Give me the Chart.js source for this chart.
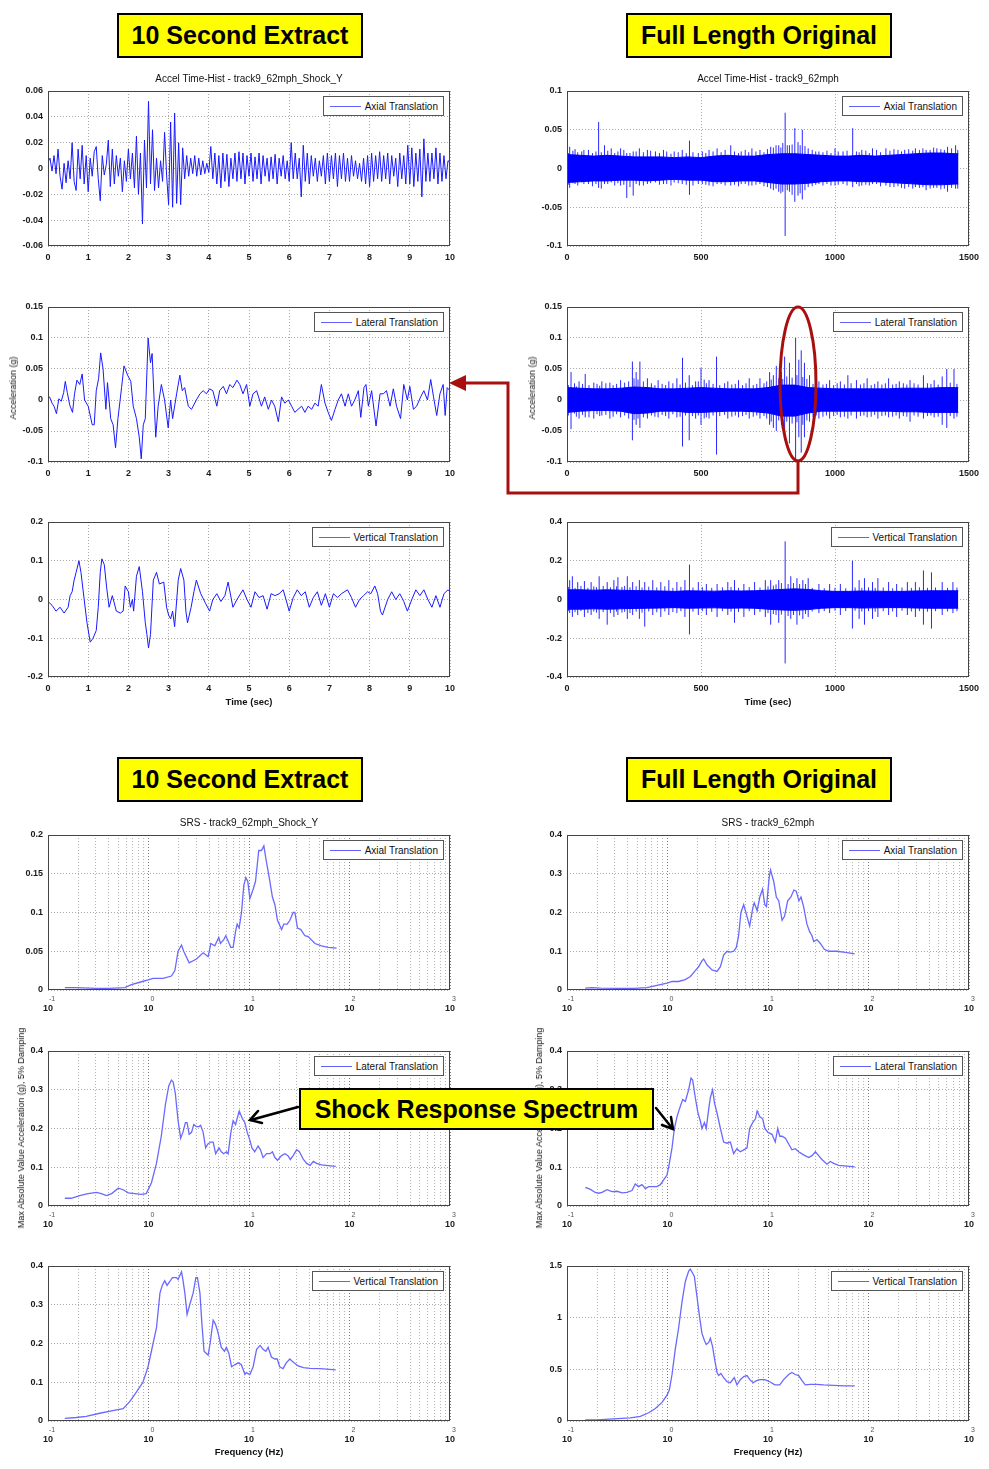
<!DOCTYPE html>
<html><head><meta charset="utf-8">
<script src="https://cdn.jsdelivr.net/npm/chart.js@4.4.1/dist/chart.umd.min.js"></script>
<style>
body{margin:0;width:989px;height:1469px;background:#fff;position:relative;overflow:hidden;font-family:"Liberation Sans",Arial,sans-serif;color:#111;}
canvas{position:absolute;}
.ttl{position:absolute;font-size:10px;line-height:12px;white-space:nowrap;transform:translateX(-50%);}
.xl{position:absolute;font-size:9.5px;font-weight:bold;line-height:12px;white-space:nowrap;transform:translateX(-50%);}
.yl{position:absolute;font-size:9px;white-space:nowrap;transform:translate(-50%,-50%) rotate(-90deg);}
.leg{position:absolute;height:20px;box-sizing:border-box;border:1px solid #555;background:#fff;display:flex;align-items:center;padding:0 5px 0 6px;font-size:10px;white-space:nowrap;}
.leg i{display:block;width:31px;border-top:1px solid #6060ff;margin-right:4px;}
.yb{position:absolute;box-sizing:border-box;background:#ffff00;border:2px solid #000;font:bold 25px "Liberation Sans",Arial,sans-serif;display:flex;align-items:center;justify-content:center;color:#000;z-index:5;}
svg{position:absolute;left:0;top:0;z-index:6;}
</style></head><body>
<script>
// ---------------- DATA ----------------
const titles = ["Accel Time-Hist - track9_62mph_Shock_Y","Accel Time-Hist - track9_62mph","SRS - track9_62mph_Shock_Y","SRS - track9_62mph"];
const seriesNames = ["Axial Translation","Lateral Translation","Vertical Translation"];

// 10 second extract, axial (sampled every 0.05 s)
const axialExtractDt = 0.05;
const axialExtract = [
0.005,0.008,-0.002,0.010,-0.004,0.015,-0.006,-0.016,0.004,-0.011,
0.006,-0.008,0.020,-0.010,-0.017,0.015,-0.008,0.018,-0.012,0.010,
-0.018,0.008,-0.006,0.013,0.017,-0.008,-0.025,0.010,-0.005,0.003,
0.022,-0.014,0.015,-0.012,0.010,-0.006,0.008,-0.018,0.006,-0.010,
0.015,-0.008,0.012,-0.015,0.025,-0.020,0.012,-0.043,0.022,-0.015,
0.052,-0.012,0.030,-0.017,0.008,-0.015,0.006,-0.010,0.028,-0.005,
-0.028,0.036,-0.030,0.043,-0.027,0.020,-0.028,0.016,-0.008,0.010,
-0.006,0.008,-0.004,0.010,-0.006,0.008,-0.005,0.006,-0.004,0.004,
-0.003,0.017,-0.008,0.012,-0.012,0.010,-0.015,0.012,-0.010,0.011,
-0.014,0.008,-0.008,0.012,-0.010,0.013,-0.008,0.012,-0.012,0.010,
-0.006,0.012,-0.010,0.009,-0.008,0.012,-0.012,0.010,-0.006,0.008,
-0.010,0.009,-0.008,0.011,-0.012,0.008,-0.006,0.010,-0.008,0.006,
-0.010,0.020,-0.008,0.012,-0.008,0.008,-0.022,0.018,-0.010,0.012,
-0.012,0.010,-0.006,0.008,-0.010,0.006,-0.006,0.010,-0.012,0.012,
-0.010,0.010,-0.008,0.012,-0.014,0.010,-0.008,0.012,-0.010,0.008,
-0.010,0.010,-0.006,0.006,-0.008,0.004,-0.010,0.008,-0.012,0.010,
-0.014,0.012,-0.010,0.010,-0.008,0.013,-0.010,0.010,-0.008,0.012,
-0.012,0.010,-0.006,0.008,-0.014,0.012,-0.008,0.010,-0.012,0.018,
-0.012,0.016,-0.014,0.012,-0.010,0.015,-0.022,0.023,-0.010,0.012,
-0.010,0.012,-0.008,0.016,-0.012,0.012,-0.010,0.010,-0.008,0.006,
0.005];

// 10 second extract, lateral [time s, g]
const lateralExtract = [[0,0.003],[0.04,0.005],[0.1,-0.005],[0.15,-0.01],[0.21,-0.022],[0.27,0.002],[0.33,-0.002],[0.39,0.012],[0.43,0.03],[0.48,0.012],[0.54,-0.008],[0.61,-0.02],[0.66,0.01],[0.72,0.032],[0.79,0.025],[0.85,0.042],[0.91,0.0],[1.0,-0.01],[1.1,-0.04],[1.15,-0.04],[1.2,0.015],[1.26,0.035],[1.31,0.076],[1.37,0.05],[1.44,-0.015],[1.48,0.028],[1.56,-0.03],[1.62,-0.04],[1.68,-0.077],[1.74,-0.03],[1.83,0.02],[1.89,0.055],[1.98,0.04],[2.06,0.03],[2.12,-0.01],[2.2,-0.03],[2.27,-0.06],[2.32,-0.095],[2.37,-0.04],[2.42,-0.03],[2.49,0.1],[2.55,0.06],[2.59,0.075],[2.64,0.0],[2.68,-0.06],[2.74,-0.01],[2.82,0.025],[2.9,0.0],[2.99,-0.045],[3.05,0.0],[3.1,-0.03],[3.2,0.01],[3.28,0.04],[3.34,0.015],[3.4,0.02],[3.49,-0.01],[3.57,-0.015],[3.69,0.0],[3.78,0.01],[3.86,0.015],[3.94,0.01],[4.02,0.018],[4.1,0.015],[4.2,-0.01],[4.27,0.015],[4.36,0.022],[4.44,0.01],[4.52,0.025],[4.6,0.02],[4.7,0.032],[4.77,0.025],[4.85,0.01],[4.94,0.025],[5.02,-0.01],[5.1,0.01],[5.19,0.015],[5.31,-0.01],[5.39,0.005],[5.48,-0.015],[5.56,0.0],[5.64,-0.01],[5.73,-0.035],[5.81,0.005],[5.89,-0.005],[5.98,0.0],[6.06,-0.01],[6.14,-0.02],[6.22,-0.015],[6.31,-0.01],[6.39,-0.02],[6.47,-0.01],[6.56,-0.015],[6.64,-0.005],[6.72,-0.01],[6.8,0.025],[6.89,-0.005],[6.97,-0.02],[7.05,-0.033],[7.14,-0.015],[7.22,0.0],[7.3,0.01],[7.39,-0.01],[7.47,0.01],[7.55,-0.01],[7.63,0.0],[7.72,0.015],[7.78,-0.028],[7.86,0.02],[7.91,0.025],[7.97,-0.01],[8.05,0.015],[8.16,-0.042],[8.26,0.01],[8.34,0.01],[8.42,0.015],[8.51,-0.01],[8.59,0.018],[8.67,-0.01],[8.77,-0.03],[8.85,0.025],[8.94,0.0],[9.0,0.022],[9.09,-0.015],[9.17,-0.01],[9.27,0.005],[9.35,0.015],[9.44,0.0],[9.52,0.033],[9.59,0.005],[9.67,-0.025],[9.75,0.01],[9.83,0.025],[9.88,-0.025],[9.93,0.02],[10,0.015]];

// 10 second extract, vertical [time s, g]
const verticalExtract = [[0,-0.005],[0.1,-0.015],[0.2,-0.03],[0.3,-0.02],[0.4,-0.035],[0.5,-0.02],[0.55,0.01],[0.6,0.02],[0.65,0.05],[0.7,0.07],[0.77,0.1],[0.82,0.07],[0.9,0.0],[0.97,-0.06],[1.05,-0.11],[1.12,-0.1],[1.2,-0.08],[1.25,-0.02],[1.3,0.07],[1.34,0.105],[1.4,0.09],[1.46,0.03],[1.52,-0.02],[1.6,0.01],[1.7,-0.03],[1.8,-0.035],[1.87,-0.03],[1.92,0.035],[2.0,0.02],[2.05,-0.02],[2.1,0.0],[2.13,-0.03],[2.2,0.06],[2.27,0.085],[2.35,0.02],[2.42,-0.06],[2.46,-0.09],[2.5,-0.125],[2.55,-0.09],[2.62,0.05],[2.7,0.07],[2.77,0.04],[2.88,0.045],[2.95,-0.02],[3.0,-0.04],[3.05,-0.05],[3.1,-0.03],[3.15,-0.07],[3.24,0.05],[3.3,0.08],[3.38,0.05],[3.43,-0.03],[3.47,-0.06],[3.56,-0.02],[3.63,0.02],[3.69,0.05],[3.8,0.015],[3.92,-0.01],[4.02,-0.03],[4.1,0.0],[4.2,0.015],[4.3,-0.005],[4.4,0.01],[4.48,0.045],[4.6,-0.02],[4.7,0.0],[4.85,0.025],[4.95,0.0],[5.05,-0.02],[5.15,0.02],[5.25,0.005],[5.35,0.01],[5.45,-0.025],[5.55,0.015],[5.65,0.01],[5.75,0.015],[5.85,0.025],[5.92,0.0],[6.0,-0.03],[6.1,0.005],[6.2,0.025],[6.3,0.01],[6.4,0.02],[6.5,-0.02],[6.6,0.005],[6.7,0.02],[6.8,-0.015],[6.9,0.015],[7.0,-0.02],[7.1,0.015],[7.2,0.005],[7.3,0.015],[7.45,0.025],[7.55,0.005],[7.65,-0.02],[7.75,0.0],[7.85,0.01],[7.95,0.02],[8.03,0.015],[8.13,0.035],[8.2,0.015],[8.27,-0.03],[8.32,-0.04],[8.45,0.0],[8.55,0.02],[8.65,0.0],[8.75,0.015],[8.85,-0.005],[8.94,-0.03],[9.05,0.0],[9.15,0.025],[9.25,0.01],[9.35,0.025],[9.45,0.0],[9.55,-0.02],[9.65,0.01],[9.75,-0.02],[9.85,0.015],[9.95,0.025],[10,0.02]];

// Full length: band envelope sampled at these times (s)
const envTimes = [0,50,100,150,200,250,300,350,400,450,500,550,600,650,700,750,800,850,900,950,1000,1050,1100,1150,1200,1250,1300,1350,1400,1450,1460];
const axialUpper = [0.018,0.017,0.016,0.017,0.016,0.015,0.015,0.015,0.014,0.015,0.014,0.016,0.017,0.016,0.016,0.018,0.019,0.019,0.018,0.017,0.016,0.016,0.017,0.016,0.017,0.018,0.019,0.020,0.020,0.019,0.019];
const axialLower = [-0.018,-0.017,-0.016,-0.016,-0.015,-0.015,-0.016,-0.015,-0.014,-0.015,-0.015,-0.017,-0.017,-0.016,-0.016,-0.018,-0.020,-0.020,-0.019,-0.017,-0.016,-0.016,-0.017,-0.017,-0.018,-0.019,-0.020,-0.021,-0.021,-0.020,-0.020];
const lateralUpper = [0.020,0.019,0.018,0.018,0.019,0.021,0.020,0.018,0.018,0.019,0.020,0.019,0.018,0.018,0.018,0.020,0.024,0.024,0.020,0.019,0.018,0.018,0.018,0.018,0.018,0.019,0.019,0.019,0.020,0.020,0.020];
const lateralLower = [-0.020,-0.018,-0.017,-0.017,-0.018,-0.022,-0.021,-0.018,-0.018,-0.020,-0.020,-0.019,-0.018,-0.018,-0.019,-0.021,-0.026,-0.026,-0.021,-0.018,-0.018,-0.018,-0.018,-0.018,-0.018,-0.019,-0.019,-0.020,-0.020,-0.020,-0.020];
const verticalUpper = [0.050,0.050,0.048,0.050,0.048,0.046,0.045,0.044,0.042,0.045,0.044,0.043,0.045,0.044,0.045,0.048,0.052,0.055,0.052,0.045,0.042,0.042,0.044,0.043,0.042,0.042,0.044,0.045,0.045,0.045,0.045];
const verticalLower = [-0.050,-0.050,-0.048,-0.050,-0.048,-0.046,-0.045,-0.044,-0.042,-0.045,-0.044,-0.043,-0.045,-0.044,-0.045,-0.050,-0.054,-0.056,-0.052,-0.045,-0.042,-0.042,-0.044,-0.043,-0.042,-0.042,-0.044,-0.045,-0.045,-0.045,-0.045];

// Full length: large spikes [time s, min g, max g]
const axialSpikes = [[10,-0.025,0.028],[30,-0.02,0.025],[55,-0.018,0.022],[80,-0.02,0.024],[118,-0.025,0.06],[140,-0.02,0.03],[165,-0.018,0.026],[200,-0.022,0.026],[223,-0.038,0.02],[247,-0.035,0.022],[270,-0.022,0.026],[300,-0.02,0.024],[330,-0.018,0.022],[360,-0.02,0.024],[400,-0.018,0.022],[430,-0.02,0.024],[457,-0.034,0.036],[490,-0.02,0.02],[530,-0.022,0.024],[560,-0.02,0.026],[611,-0.022,0.03],[650,-0.02,0.022],[690,-0.022,0.026],[720,-0.02,0.024],[760,-0.026,0.028],[790,-0.03,0.03],[814,-0.087,0.072],[830,-0.03,0.03],[850,-0.043,0.052],[862,-0.035,0.034],[878,-0.04,0.05],[900,-0.024,0.026],[940,-0.02,0.022],[1000,-0.022,0.026],[1030,-0.02,0.022],[1066,-0.024,0.052],[1100,-0.022,0.024],[1140,-0.02,0.026],[1190,-0.022,0.026],[1220,-0.024,0.025],[1260,-0.026,0.024],[1300,-0.024,0.026],[1340,-0.028,0.024],[1380,-0.025,0.026],[1420,-0.03,0.028],[1450,-0.026,0.03]];
const lateralSpikes = [[15,-0.047,0.045],[45,-0.03,0.03],[68,-0.028,0.042],[100,-0.03,0.028],[130,-0.025,0.03],[160,-0.03,0.028],[200,-0.028,0.032],[244,-0.065,0.062],[258,-0.04,0.045],[272,-0.045,0.062],[300,-0.03,0.035],[340,-0.028,0.032],[380,-0.03,0.03],[410,-0.028,0.035],[431,-0.075,0.068],[456,-0.065,0.04],[480,-0.03,0.03],[500,-0.04,0.052],[530,-0.03,0.032],[558,-0.088,0.07],[600,-0.03,0.03],[640,-0.028,0.032],[680,-0.03,0.035],[720,-0.03,0.035],[756,-0.04,0.045],[770,-0.045,0.04],[781,-0.05,0.055],[800,-0.04,0.045],[812,-0.065,0.07],[830,-0.07,0.06],[853,-0.1,0.1],[865,-0.06,0.065],[874,-0.085,0.08],[886,-0.06,0.06],[905,-0.035,0.04],[940,-0.03,0.03],[980,-0.03,0.032],[1020,-0.028,0.03],[1048,-0.03,0.04],[1080,-0.03,0.032],[1120,-0.028,0.035],[1160,-0.03,0.03],[1200,-0.028,0.035],[1240,-0.03,0.03],[1280,-0.035,0.032],[1330,-0.03,0.04],[1370,-0.028,0.032],[1400,-0.04,0.038],[1417,-0.045,0.05],[1444,-0.03,0.05]];
const verticalSpikes = [[10,-0.07,0.1],[20,-0.09,0.12],[40,-0.08,0.09],[65,-0.09,0.095],[90,-0.08,0.09],[120,-0.1,0.12],[150,-0.13,0.09],[175,-0.09,0.1],[190,-0.08,0.115],[225,-0.1,0.12],[245,-0.08,0.09],[270,-0.1,0.1],[290,-0.14,0.09],[320,-0.08,0.1],[350,-0.09,0.09],[380,-0.08,0.1],[410,-0.07,0.09],[440,-0.09,0.1],[457,-0.18,0.18],[490,-0.08,0.09],[520,-0.08,0.08],[560,-0.09,0.08],[600,-0.08,0.09],[625,-0.12,0.1],[660,-0.09,0.08],[700,-0.08,0.09],[740,-0.09,0.1],[760,-0.13,0.1],[790,-0.12,0.1],[814,-0.33,0.3],[835,-0.1,0.12],[858,-0.13,0.11],[880,-0.1,0.1],[900,-0.09,0.11],[940,-0.07,0.08],[980,-0.07,0.08],[1020,-0.08,0.08],[1065,-0.15,0.2],[1090,-0.1,0.1],[1110,-0.13,0.11],[1140,-0.1,0.09],[1160,-0.09,0.11],[1200,-0.08,0.09],[1230,-0.09,0.08],[1270,-0.08,0.09],[1300,-0.09,0.09],[1330,-0.13,0.15],[1360,-0.15,0.14],[1400,-0.08,0.09],[1440,-0.07,0.09]];
// Full length: small fringe peaks just outside the dense band [time s, min g, max g]
const axialFringe = [[5,-0.021,0.02],[22,-0.019,0.023],[40,-0.022,0.021],[63,-0.02,0.024],[95,-0.023,0.02],[108,-0.02,0.022],[128,-0.026,0.021],[152,-0.02,0.023],[178,-0.022,0.02],[190,-0.019,0.022],[212,-0.021,0.024],[235,-0.024,0.02],[258,-0.02,0.022],[285,-0.022,0.021],[312,-0.019,0.023],[345,-0.021,0.02],[372,-0.02,0.022],[388,-0.022,0.019],[415,-0.019,0.021],[445,-0.021,0.02],[470,-0.022,0.021],[505,-0.02,0.022],[518,-0.021,0.02],[545,-0.023,0.022],[575,-0.02,0.021],[590,-0.022,0.024],[625,-0.021,0.022],[640,-0.023,0.02],[665,-0.02,0.024],[678,-0.022,0.021],[705,-0.021,0.022],[735,-0.023,0.021],[748,-0.024,0.025],[770,-0.028,0.027],[780,-0.026,0.03],[798,-0.032,0.027],[805,-0.03,0.033],[822,-0.028,0.03],[840,-0.034,0.031],[870,-0.032,0.03],[888,-0.028,0.029],[915,-0.023,0.024],[928,-0.021,0.022],[955,-0.022,0.021],[970,-0.02,0.023],[985,-0.022,0.02],[1012,-0.021,0.022],[1045,-0.022,0.023],[1080,-0.02,0.022],[1090,-0.023,0.021],[1115,-0.021,0.023],[1128,-0.022,0.02],[1155,-0.02,0.024],[1170,-0.023,0.021],[1205,-0.024,0.023],[1235,-0.023,0.024],[1248,-0.025,0.022],[1275,-0.024,0.025],[1290,-0.026,0.023],[1315,-0.025,0.024],[1328,-0.024,0.026],[1355,-0.026,0.024],[1368,-0.025,0.027],[1395,-0.027,0.025],[1408,-0.026,0.024],[1435,-0.025,0.026],[1458,-0.026,0.024]];
const lateralFringe = [[5,-0.025,0.024],[28,-0.022,0.027],[35,-0.027,0.022],[58,-0.024,0.026],[82,-0.028,0.024],[112,-0.023,0.026],[122,-0.026,0.023],[145,-0.024,0.027],[172,-0.027,0.024],[185,-0.023,0.026],[215,-0.025,0.028],[230,-0.03,0.03],[250,-0.032,0.035],[265,-0.03,0.033],[285,-0.028,0.03],[315,-0.025,0.027],[328,-0.027,0.024],[355,-0.024,0.026],[368,-0.026,0.024],[395,-0.023,0.027],[422,-0.027,0.025],[442,-0.025,0.028],[468,-0.026,0.024],[490,-0.025,0.03],[512,-0.03,0.033],[520,-0.028,0.027],[545,-0.025,0.026],[570,-0.026,0.024],[588,-0.024,0.027],[615,-0.027,0.025],[628,-0.025,0.026],[655,-0.026,0.024],[668,-0.024,0.027],[695,-0.027,0.024],[708,-0.025,0.026],[735,-0.026,0.027],[745,-0.03,0.03],[762,-0.035,0.033],[790,-0.033,0.035],[805,-0.036,0.034],[820,-0.035,0.038],[840,-0.038,0.036],[858,-0.036,0.04],[880,-0.04,0.037],[895,-0.033,0.034],[918,-0.027,0.026],[930,-0.025,0.027],[955,-0.027,0.025],[968,-0.025,0.026],[995,-0.026,0.024],[1008,-0.024,0.027],[1035,-0.027,0.025],[1060,-0.025,0.027],[1095,-0.026,0.025],[1108,-0.025,0.027],[1135,-0.027,0.024],[1148,-0.024,0.026],[1175,-0.026,0.025],[1188,-0.025,0.027],[1215,-0.027,0.025],[1228,-0.025,0.026],[1255,-0.026,0.027],[1268,-0.027,0.025],[1295,-0.025,0.027],[1310,-0.027,0.025],[1345,-0.026,0.027],[1358,-0.025,0.026],[1385,-0.027,0.025],[1430,-0.026,0.028],[1455,-0.027,0.026]];
const verticalFringe = [[5,-0.06,0.065],[30,-0.065,0.06],[52,-0.06,0.07],[78,-0.07,0.06],[100,-0.062,0.068],[110,-0.068,0.064],[135,-0.065,0.07],[162,-0.07,0.063],[185,-0.063,0.068],[205,-0.068,0.065],[215,-0.064,0.07],[235,-0.07,0.063],[258,-0.063,0.068],[280,-0.068,0.062],[305,-0.062,0.066],[335,-0.066,0.062],[365,-0.062,0.068],[395,-0.065,0.06],[425,-0.06,0.065],[470,-0.063,0.062],[505,-0.06,0.064],[540,-0.064,0.06],[580,-0.06,0.063],[612,-0.063,0.065],[640,-0.065,0.06],[680,-0.06,0.064],[720,-0.064,0.062],[750,-0.07,0.068],[770,-0.075,0.072],[780,-0.08,0.078],[800,-0.078,0.085],[825,-0.085,0.08],[845,-0.08,0.085],[868,-0.082,0.08],[890,-0.075,0.08],[915,-0.062,0.06],[960,-0.06,0.058],[1000,-0.058,0.06],[1040,-0.06,0.058],[1075,-0.058,0.062],[1100,-0.062,0.06],[1125,-0.06,0.063],[1150,-0.063,0.06],[1180,-0.06,0.062],[1215,-0.062,0.058],[1250,-0.058,0.062],[1285,-0.062,0.06],[1315,-0.06,0.063],[1345,-0.063,0.06],[1375,-0.06,0.062],[1420,-0.062,0.06],[1455,-0.06,0.062]];

// SRS [frequency Hz, g]
const srsAxialExtract = [[0.147,0.003],[0.191,0.003],[0.303,0.002],[0.411,0.002],[0.58,0.003],[0.676,0.007],[0.819,0.01],[0.991,0.013],[1.11,0.015],[1.4,0.015],[1.69,0.018],[1.83,0.025],[1.97,0.05],[2.13,0.058],[2.24,0.05],[2.54,0.035],[3.0,0.04],[3.5,0.048],[3.92,0.043],[4.17,0.06],[4.57,0.057],[5.0,0.068],[5.2,0.06],[5.61,0.065],[5.88,0.07],[6.35,0.06],[6.59,0.055],[6.95,0.055],[7.34,0.075],[7.62,0.085],[7.98,0.08],[8.42,0.1],[8.88,0.135],[9.3,0.145],[9.73,0.14],[10.2,0.118],[11.0,0.13],[11.6,0.14],[12.05,0.16],[12.5,0.18],[13.3,0.18],[14.06,0.186],[14.7,0.17],[15.9,0.145],[17.1,0.12],[18.1,0.11],[19.2,0.09],[21.1,0.078],[22.2,0.085],[24.0,0.085],[25.5,0.09],[27.5,0.1],[28.6,0.1],[30.4,0.08],[32.8,0.078],[36,0.07],[38.8,0.069],[45.3,0.06],[52.7,0.057],[61.4,0.055],[74.3,0.054]];
const srsLateralExtract = [[0.147,0.02],[0.17,0.02],[0.207,0.027],[0.25,0.032],[0.303,0.035],[0.34,0.032],[0.38,0.027],[0.43,0.032],[0.5,0.046],[0.56,0.042],[0.63,0.034],[0.73,0.032],[0.85,0.03],[0.95,0.032],[1.07,0.06],[1.2,0.11],[1.34,0.18],[1.47,0.26],[1.59,0.31],[1.69,0.325],[1.76,0.32],[1.85,0.29],[1.97,0.22],[2.09,0.175],[2.2,0.19],[2.33,0.215],[2.42,0.215],[2.54,0.185],[2.68,0.19],[2.82,0.21],[3.0,0.205],[3.18,0.205],[3.3,0.208],[3.5,0.19],[3.7,0.15],[3.9,0.16],[4.17,0.165],[4.4,0.165],[4.66,0.135],[5.03,0.15],[5.3,0.14],[5.6,0.135],[5.95,0.14],[6.2,0.135],[6.6,0.19],[6.95,0.22],[7.35,0.21],[7.7,0.23],[8.0,0.245],[8.3,0.235],[8.6,0.225],[9.1,0.215],[9.6,0.19],[10.2,0.17],[10.7,0.15],[11.4,0.14],[12.3,0.155],[13.0,0.145],[13.8,0.125],[14.95,0.135],[16.2,0.135],[17.1,0.14],[18.1,0.125],[19.2,0.118],[21.1,0.13],[22.8,0.135],[24.4,0.13],[25.8,0.12],[27.5,0.13],[29.8,0.145],[31.7,0.14],[34.8,0.12],[37.5,0.11],[40.5,0.105],[43.7,0.115],[47.1,0.11],[52.7,0.106],[61.4,0.104],[73,0.102]];
const srsVerticalExtract = [[0.147,0.007],[0.191,0.009],[0.24,0.012],[0.327,0.02],[0.44,0.027],[0.56,0.032],[0.65,0.05],[0.76,0.075],[0.88,0.1],[0.99,0.14],[1.11,0.2],[1.2,0.24],[1.3,0.33],[1.37,0.35],[1.45,0.362],[1.53,0.35],[1.63,0.36],[1.73,0.37],[1.9,0.37],[1.97,0.365],[2.13,0.385],[2.2,0.365],[2.3,0.33],[2.42,0.275],[2.57,0.3],[2.78,0.33],[2.96,0.37],[3.07,0.37],[3.25,0.33],[3.4,0.25],[3.57,0.18],[3.92,0.17],[4.1,0.2],[4.4,0.26],[4.63,0.25],[4.9,0.23],[5.3,0.19],[5.7,0.18],[5.95,0.19],[6.3,0.175],[6.7,0.14],[7.2,0.145],[7.8,0.15],[8.4,0.145],[9.1,0.12],[9.4,0.125],[10.2,0.12],[11.0,0.14],[11.9,0.185],[12.9,0.195],[13.8,0.185],[14.7,0.18],[15.5,0.19],[16.7,0.165],[18.1,0.16],[19.1,0.16],[20.2,0.14],[21.8,0.135],[23.5,0.15],[25.5,0.16],[27.5,0.152],[30.8,0.142],[34.8,0.138],[40.5,0.136],[50.8,0.135],[63.6,0.133],[73,0.132]];
const srsAxialFull = [[0.152,0.005],[0.177,0.006],[0.215,0.005],[0.315,0.004],[0.46,0.004],[0.625,0.006],[0.786,0.012],[0.989,0.018],[1.109,0.022],[1.29,0.022],[1.5,0.027],[1.69,0.035],[1.89,0.05],[2.04,0.06],[2.2,0.075],[2.29,0.08],[2.47,0.065],[2.77,0.052],[3.11,0.048],[3.36,0.06],[3.62,0.09],[3.91,0.1],[4.22,0.098],[4.55,0.1],[4.84,0.11],[5.1,0.14],[5.38,0.2],[5.73,0.22],[6.18,0.19],[6.57,0.165],[7.04,0.21],[7.29,0.225],[7.8,0.205],[8.29,0.24],[8.82,0.26],[9.3,0.22],[9.66,0.215],[10.27,0.29],[10.59,0.31],[11.4,0.28],[12.1,0.24],[12.8,0.23],[13.8,0.18],[14.6,0.19],[15.7,0.23],[16.9,0.24],[18.1,0.258],[19.1,0.255],[20.3,0.23],[21.3,0.24],[22.6,0.215],[24.4,0.17],[26.0,0.15],[27.4,0.14],[28.5,0.125],[30.7,0.13],[33.2,0.12],[36.3,0.105],[40.1,0.1],[48.6,0.1],[58.8,0.097],[72.9,0.093]];
const srsLateralFull = [[0.152,0.048],[0.171,0.043],[0.191,0.035],[0.207,0.033],[0.223,0.035],[0.25,0.042],[0.28,0.037],[0.315,0.038],[0.353,0.034],[0.395,0.035],[0.443,0.04],[0.478,0.057],[0.516,0.05],[0.557,0.055],[0.602,0.045],[0.65,0.05],[0.728,0.05],[0.786,0.05],[0.849,0.055],[0.93,0.07],[0.989,0.08],[1.043,0.11],[1.109,0.15],[1.17,0.2],[1.243,0.23],[1.312,0.25],[1.416,0.275],[1.504,0.27],[1.624,0.3],[1.713,0.33],[1.78,0.325],[1.89,0.28],[2.01,0.24],[2.12,0.22],[2.2,0.2],[2.33,0.215],[2.43,0.2],[2.57,0.25],[2.67,0.28],[2.81,0.3],[2.94,0.265],[3.11,0.24],[3.36,0.2],[3.62,0.165],[3.91,0.162],[4.22,0.165],[4.55,0.135],[4.9,0.148],[5.3,0.14],[5.73,0.145],[6.18,0.15],[6.57,0.2],[7.04,0.215],[7.5,0.225],[7.8,0.245],[8.29,0.23],[8.85,0.225],[9.3,0.2],[10.0,0.19],[10.96,0.185],[11.8,0.165],[12.5,0.2],[13.1,0.18],[13.8,0.18],[14.9,0.175],[16.06,0.16],[17.3,0.145],[18.7,0.148],[20.2,0.14],[22.6,0.132],[25.4,0.125],[27.4,0.13],[29.6,0.14],[31.9,0.13],[34.4,0.12],[38.6,0.108],[41.7,0.115],[45.0,0.11],[50.5,0.105],[61.1,0.103],[72.9,0.101]];
const srsVerticalFull = [[0.152,0.01],[0.199,0.01],[0.291,0.02],[0.427,0.03],[0.537,0.045],[0.65,0.08],[0.757,0.12],[0.882,0.18],[0.989,0.25],[1.043,0.3],[1.109,0.45],[1.197,0.7],[1.29,0.9],[1.393,1.15],[1.504,1.35],[1.624,1.45],[1.687,1.47],[1.78,1.43],[1.85,1.4],[1.966,1.2],[2.09,1.0],[2.2,0.85],[2.33,0.78],[2.43,0.74],[2.57,0.76],[2.67,0.8],[2.81,0.72],[2.94,0.6],[3.11,0.47],[3.23,0.44],[3.4,0.46],[3.62,0.42],[3.91,0.38],[4.22,0.37],[4.62,0.42],[4.91,0.35],[5.3,0.4],[5.73,0.43],[6.18,0.44],[6.6,0.4],[7.12,0.37],[7.69,0.39],[8.29,0.4],[9.3,0.4],[10.4,0.38],[11.7,0.35],[13.1,0.35],[14.3,0.4],[16.06,0.45],[17.3,0.47],[18.7,0.45],[20.2,0.44],[21.8,0.39],[23.5,0.35],[26.4,0.355],[30.7,0.355],[35.8,0.35],[45,0.345],[56.6,0.34],[72.9,0.34]];

// Tick values
const ticksTime10 = [0,1,2,3,4,5,6,7,8,9,10];
const ticksTimeFull = [0,500,1000,1500];
const ticksFreq = [0.1,0.2,0.3,0.4,0.5,0.6,0.7,0.8,0.9,1,2,3,4,5,6,7,8,9,10,20,30,40,50,60,70,80,90,100,200,300,400,500,600,700,800,900,1000];
const freqDecades = [-1,0,1,2,3];
const ticksAxialExtract = [-0.06,-0.04,-0.02,0,0.02,0.04,0.06];
const ticksLat = [-0.1,-0.05,0,0.05,0.1,0.15];
const ticksVertExtract = [-0.2,-0.1,0,0.1,0.2];
const ticksAxialFull = [-0.1,-0.05,0,0.05,0.1];
const ticksVertFull = [-0.4,-0.2,0,0.2,0.4];
const ticksSrs02 = [0,0.05,0.1,0.15,0.2];
const ticksSrs04 = [0,0.1,0.2,0.3,0.4];
const ticksSrs15 = [0,0.5,1,1.5];

// ---------------- DRAWING ----------------
Chart.defaults.font.family = '"Liberation Sans", Arial, sans-serif';
const fmt = v => String(Math.round(v * 10000) / 10000);
const frameAndLog = {
  id: 'frameAndLog',
  afterDraw(chart) {
    const {ctx, chartArea: a} = chart;
    ctx.save();
    ctx.strokeStyle = '#444'; ctx.lineWidth = 1;
    ctx.strokeRect(Math.round(a.left) + 0.5, Math.round(a.top) + 0.5, Math.round(a.right - a.left) - 1, Math.round(a.bottom - a.top) - 1);
    const o = chart.options.plugins.frameAndLog;
    if (o && o.log) {
      const xs = chart.scales.x;
      ctx.textAlign = 'center'; ctx.textBaseline = 'middle';
      freqDecades.forEach(d => {
        const px = xs.getPixelForValue(Math.pow(10, d));
        ctx.fillStyle = '#1a1a1a'; ctx.font = 'bold 9px "Liberation Sans", Arial';
        ctx.fillText('10', px, a.bottom + 19);
        ctx.fillStyle = '#555'; ctx.font = '7px "Liberation Sans", Arial';
        ctx.fillText(String(d), px + 4, a.bottom + 9);
      });
    }
    ctx.restore();
  }
};

const PW = 402, PH = 155, PT = 11, PR = 22;
function plot(o) {
  const xh = o.log ? 26 : 22;
  const W = 48 + PW + PR, H = PT + PH + xh;
  const cv = document.createElement('canvas');
  cv.width = W; cv.height = H;
  cv.style.left = (o.left - 48) + 'px'; cv.style.top = (o.top - PT) + 'px';
  cv.style.width = W + 'px'; cv.style.height = H + 'px';
  document.body.appendChild(cv);
  const gridX = o.log ? (c => { const v = c.tick && c.tick.value; const l = Math.log10(v); return Math.abs(l - Math.round(l)) < 1e-6 ? '#7a7a7a' : '#b4b4b4'; }) : '#a8a8a8';
  new Chart(cv, {
    type: 'line',
    data: {datasets: o.datasets},
    options: {
      responsive: false, animation: false, events: [],
      layout: {padding: {top: PT, right: PR, bottom: 0, left: 0}},
      plugins: {legend: {display: false}, tooltip: {enabled: false}, frameAndLog: {log: !!o.log}},
      scales: {
        x: {type: o.log ? 'logarithmic' : 'linear', min: o.xMin, max: o.xMax,
          afterBuildTicks: s => { s.ticks = o.xTicks.map(v => ({value: v})); },
          afterFit: s => { s.height = xh; },
          grid: {color: gridX, drawTicks: false, lineWidth: 1},
          border: {display: false, dash: [1, 2]},
          ticks: {display: !o.log, padding: 6, autoSkip: false, maxRotation: 0, color: '#1a1a1a', font: {size: 9, weight: 'bold'}, callback: fmt}},
        y: {type: 'linear', min: o.yMin, max: o.yMax,
          afterBuildTicks: s => { s.ticks = o.yTicks.map(v => ({value: v})); },
          afterFit: s => { s.width = 48; },
          grid: {color: '#a8a8a8', drawTicks: false, lineWidth: 1},
          border: {display: false, dash: [1, 2]},
          ticks: {padding: 5, autoSkip: false, color: '#1a1a1a', font: {size: 9, weight: 'bold'}, callback: fmt}}
      }
    },
    plugins: [frameAndLog]
  });
  const lg = document.createElement('div');
  lg.className = 'leg';
  lg.style.right = (989 - (o.left + PW - 6)) + 'px';
  lg.style.top = (o.top + 5) + 'px';
  lg.innerHTML = '<i></i><span></span>';
  lg.querySelector('span').textContent = o.legend;
  document.body.appendChild(lg);
}

const pairs = a => a.map(([x, y]) => ({x, y}));
const lineDS = (data, color, w) => ({data, borderColor: color, borderWidth: w, pointRadius: 0, tension: 0, fill: false});
const TS_BLUE = 'rgb(25,25,255)', SRS_BLUE = 'rgb(105,105,255)';
function spikeDS(spikes, color) {
  const sp = [];
  spikes.forEach(([t, a, b]) => { sp.push({x: t, y: a}, {x: t, y: b}, {x: t, y: null}); });
  return {data: sp, borderColor: color, borderWidth: 1, pointRadius: 0, tension: 0, fill: false, spanGaps: false};
}
function bandDS(upper, lower, spikes, fringe) {
  const up = envTimes.map((t, i) => ({x: t, y: upper[i]}));
  const lo = envTimes.map((t, i) => ({x: t, y: lower[i]}));
  return [
    {data: up, borderColor: '#0000ff', backgroundColor: '#0000ff', borderWidth: 1, pointRadius: 0, tension: 0, fill: '+1'},
    {data: lo, borderColor: '#0000ff', borderWidth: 1, pointRadius: 0, tension: 0, fill: false},
    spikeDS(spikes, 'rgb(40,40,255)'),
    spikeDS(fringe, 'rgb(50,50,255)')
  ];
}

const L = 48, R = 567;
const rowTop = [91, 307, 522, 835, 1051, 1266];

plot({left: L, top: rowTop[0], xMin: 0, xMax: 10, xTicks: ticksTime10, yMin: -0.06, yMax: 0.06, yTicks: ticksAxialExtract, legend: seriesNames[0],
  datasets: [lineDS(axialExtract.map((v, i) => ({x: i * axialExtractDt, y: v})), TS_BLUE, 1)]});
plot({left: L, top: rowTop[1], xMin: 0, xMax: 10, xTicks: ticksTime10, yMin: -0.1, yMax: 0.15, yTicks: ticksLat, legend: seriesNames[1],
  datasets: [lineDS(pairs(lateralExtract), TS_BLUE, 1)]});
plot({left: L, top: rowTop[2], xMin: 0, xMax: 10, xTicks: ticksTime10, yMin: -0.2, yMax: 0.2, yTicks: ticksVertExtract, legend: seriesNames[2],
  datasets: [lineDS(pairs(verticalExtract), TS_BLUE, 1)]});
plot({left: R, top: rowTop[0], xMin: 0, xMax: 1500, xTicks: ticksTimeFull, yMin: -0.1, yMax: 0.1, yTicks: ticksAxialFull, legend: seriesNames[0],
  datasets: bandDS(axialUpper, axialLower, axialSpikes, axialFringe)});
plot({left: R, top: rowTop[1], xMin: 0, xMax: 1500, xTicks: ticksTimeFull, yMin: -0.1, yMax: 0.15, yTicks: ticksLat, legend: seriesNames[1],
  datasets: bandDS(lateralUpper, lateralLower, lateralSpikes, lateralFringe)});
plot({left: R, top: rowTop[2], xMin: 0, xMax: 1500, xTicks: ticksTimeFull, yMin: -0.4, yMax: 0.4, yTicks: ticksVertFull, legend: seriesNames[2],
  datasets: bandDS(verticalUpper, verticalLower, verticalSpikes, verticalFringe)});
const srsPlots = [
  [L, 3, srsAxialExtract, 0.2, ticksSrs02, 0], [L, 4, srsLateralExtract, 0.4, ticksSrs04, 1], [L, 5, srsVerticalExtract, 0.4, ticksSrs04, 2],
  [R, 3, srsAxialFull, 0.4, ticksSrs04, 0], [R, 4, srsLateralFull, 0.4, ticksSrs04, 1], [R, 5, srsVerticalFull, 1.5, ticksSrs15, 2]
];
srsPlots.forEach(([x, r, d, ymax, yt, n]) => plot({left: x, top: rowTop[r], log: true, xMin: 0.1, xMax: 1000, xTicks: ticksFreq, yMin: 0, yMax: ymax, yTicks: yt, legend: seriesNames[n],
  datasets: [lineDS(pairs(d), SRS_BLUE, 1.3)]}));

function txt(cls, s, x, y) { const d = document.createElement('div'); d.className = cls; d.textContent = s; d.style.left = x + 'px'; d.style.top = y + 'px'; document.body.appendChild(d); }
txt('ttl', titles[0], 249, 73); txt('ttl', titles[1], 768, 73);
txt('ttl', titles[2], 249, 817); txt('ttl', titles[3], 768, 817);
txt('xl', 'Time (sec)', 249, 696); txt('xl', 'Time (sec)', 768, 696);
txt('xl', 'Frequency (Hz)', 249, 1446); txt('xl', 'Frequency (Hz)', 768, 1446);
txt('yl', 'Acceleration (g)', 13, 388); txt('yl', 'Acceleration (g)', 532, 388);
txt('yl', 'Max Absolute Value Acceleration (g), 5% Damping', 21, 1128); txt('yl', 'Max Absolute Value Acceleration (g), 5% Damping', 539, 1128);
function ybox(s, x, y, w, h) { const d = document.createElement('div'); d.className = 'yb'; d.textContent = s; Object.assign(d.style, {left: x + 'px', top: y + 'px', width: w + 'px', height: h + 'px'}); document.body.appendChild(d); }
ybox('10 Second Extract', 117, 13, 246, 45); ybox('Full Length Original', 626, 13, 266, 45);
ybox('10 Second Extract', 117, 757, 246, 45); ybox('Full Length Original', 626, 757, 266, 45);
ybox('Shock Response Spectrum', 299, 1088, 355, 42);
</script>
<svg width="989" height="1469">
  <g fill="none" stroke="#a8100f" stroke-width="3">
    <ellipse cx="798" cy="384" rx="18" ry="77"/>
    <polyline points="798,461 798,493 508,493 508,383 462,383"/>
  </g>
  <polygon points="449,383 466,375 466,391" fill="#a8100f"/>
  <g fill="none" stroke="#000" stroke-width="2.5" stroke-linecap="round">
    <line x1="298" y1="1107" x2="251" y2="1120"/>
    <polyline points="262,1123 250,1120 258,1111"/>
    <line x1="656" y1="1108" x2="672" y2="1128"/>
    <polyline points="662,1125 673,1129 671,1117"/>
  </g>
</svg>
</body></html>
